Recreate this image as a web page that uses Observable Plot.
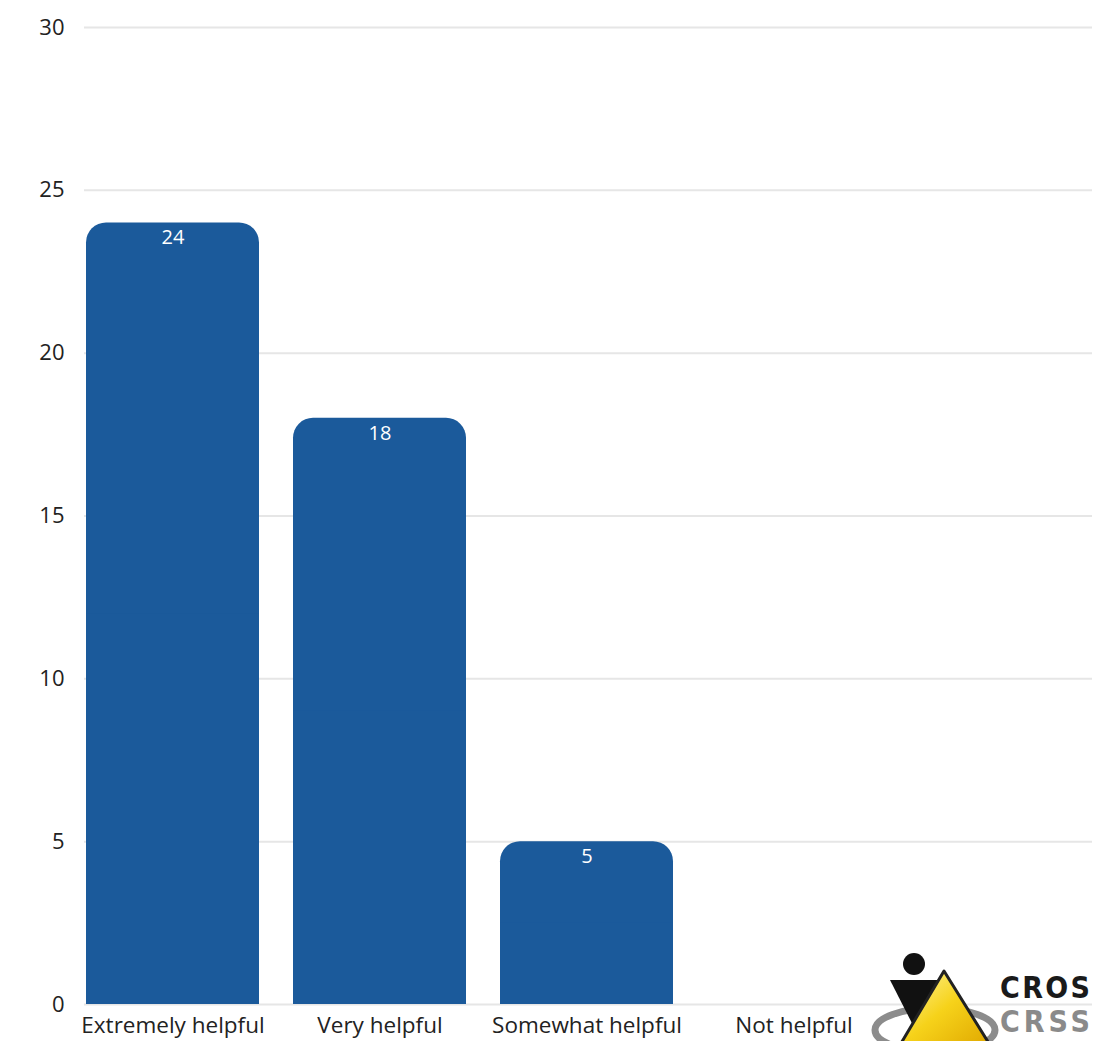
<!DOCTYPE html>
<html>
<head>
<meta charset="utf-8">
<script src="https://cdn.jsdelivr.net/npm/d3@7"></script>
<script src="https://cdn.jsdelivr.net/npm/@observablehq/plot@0.6"></script>
<style>
  html, body { margin: 0; padding: 0; background: #fff; overflow: hidden; }
  #wrap { position: relative; width: 1096px; height: 1041px; overflow: hidden; }
  #logo { position: absolute; left: 0; top: 0; pointer-events: none; }
</style>
</head>
<body>
<div id="wrap"></div>
<script>
const categories = ["Extremely helpful", "Very helpful", "Somewhat helpful", "Not helpful"];
const counts = [24, 18, 5, 0];
const yTicks = [0, 5, 10, 15, 20, 25, 30];

const data = categories.map((c, i) => ({category: c, value: counts[i]}));
const barColor = "#1b5a9b";
const font = "'Open Sans', sans-serif";

const chart = Plot.plot({
  width: 1096,
  height: 1041,
  marginLeft: 84,
  marginRight: 4,
  marginTop: 27,
  marginBottom: 37,
  style: {fontFamily: font, fontSize: "20px", color: "#333", background: "#fff"},
  x: {domain: categories, range: [67, 899], paddingInner: 0.163, paddingOuter: 0.0817, label: null},
  y: {domain: [0, 30], ticks: yTicks, label: null},
  marks: [
    Plot.ruleY(yTicks, {stroke: "#e6e6e6", strokeWidth: 2}),
    Plot.barY(data.filter(d => d.value > 0), {x: "category", y: "value", fill: barColor, rx: 20}),
    Plot.barY(data.filter(d => d.value > 0), {x: "category", y: d => d.value / 2, fill: barColor}),
    Plot.text(data.filter(d => d.value > 0), {x: "category", y: "value", text: d => String(d.value), fill: "white", dy: 15, fontSize: 20, fontFamily: font}),
    Plot.axisX({tickSize: 0, tickPadding: 13, fontSize: 22.5, fill: "#222", label: null}),
    Plot.axisY(yTicks, {tickSize: 0, tickPadding: 20, fontSize: 22, fill: "#222", label: null})
  ]
});
document.getElementById("wrap").appendChild(chart);

// decorative logo (bottom-right, cropped like the reference)
const ns = "http://www.w3.org/2000/svg";
const logo = document.createElementNS(ns, "svg");
logo.setAttribute("id", "logo");
logo.setAttribute("width", 1096);
logo.setAttribute("height", 1041);
logo.innerHTML = `
  <defs>
    <linearGradient id="gy" x1="0" y1="0" x2="1" y2="1">
      <stop offset="0" stop-color="#fff6a0"/>
      <stop offset="0.5" stop-color="#f6d21a"/>
      <stop offset="1" stop-color="#e0a800"/>
    </linearGradient>
  </defs>
  <ellipse cx="935" cy="1030" rx="60" ry="22" fill="none" stroke="#8c8c8c" stroke-width="7"/>
  <circle cx="914" cy="964" r="11" fill="#111"/>
  <polygon points="890,980 945,980 918,1035" fill="#111"/>
  <polygon points="944,971 990,1045 900,1045" fill="url(#gy)" stroke="#222" stroke-width="3" stroke-linejoin="round"/>
  <text x="1000" y="998" font-family="'DejaVu Sans Condensed', 'Liberation Sans Narrow', sans-serif" font-weight="bold" font-size="30" fill="#1a1a1a" textLength="90">CROS</text>
  <text x="1000" y="1032" font-family="'DejaVu Sans Condensed', 'Liberation Sans Narrow', sans-serif" font-weight="bold" font-size="30" fill="#8a8a8a" textLength="90">CRSS</text>
`;
document.getElementById("wrap").appendChild(logo);
</script>
</body>
</html>
